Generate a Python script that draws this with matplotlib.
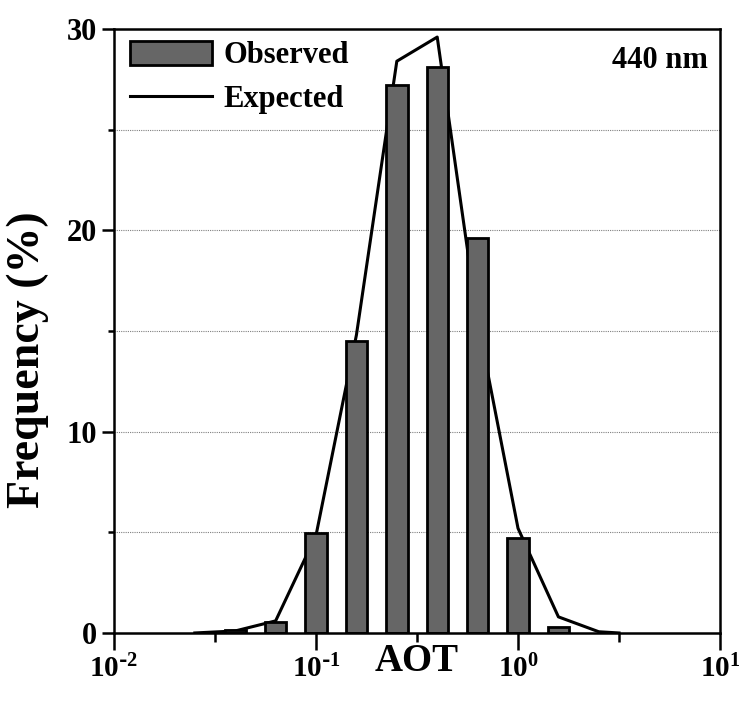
import numpy as np
import matplotlib
matplotlib.use("Agg")
import matplotlib.pyplot as plt
from matplotlib.ticker import FixedLocator, NullFormatter

plt.rcParams["font.family"] = ["Liberation Serif", "DejaVu Serif"]
plt.rcParams["font.weight"] = "bold"
plt.rcParams["mathtext.default"] = "regular"

# AOT histogram, 440 nm (bin centres in log10 units)
obs_log_centers = [-1.4, -1.2, -1.0, -0.8, -0.6, -0.4, -0.2, 0.0, 0.2]
obs_freq = [0.15, 0.55, 4.95, 14.5, 27.2, 28.1, 19.6, 4.7, 0.3]

exp_log_centers = [-1.6, -1.4, -1.2, -1.0, -0.8, -0.6, -0.4, -0.2, 0.0, 0.2, 0.4, 0.5]
exp_freq = [0.0, 0.1, 0.6, 4.85, 14.8, 28.4, 29.6, 15.5, 5.2, 0.8, 0.06, 0.0]

xticks = [0.01, 0.1, 1, 10]
xticklabels = ["10$^{\\text{-}2}$", "10$^{\\text{-}1}$", "10$^{0}$", "10$^{1}$"]

fig = plt.figure(figsize=(7.39, 7.04), dpi=100)
ax = fig.add_axes([0.1543, 0.1009, 0.8200, 0.8579])

# bars are half a bin wide in log space
half = 0.053
c = np.array(obs_log_centers)
left = 10 ** (c - half)
width = 10 ** (c + half) - left
bars = ax.bar(left, obs_freq, width=width, align="edge", color="#666666",
              edgecolor="black", linewidth=2.0, zorder=2, label="Observed")

line, = ax.plot(10 ** np.array(exp_log_centers), exp_freq, color="black",
                linewidth=2.2, zorder=1, label="Expected")

for y in [5, 10, 15, 20, 25]:
    ax.axhline(y, color="#808080", linestyle=(0, (1, 1)), linewidth=0.8, zorder=0)

ax.set_xscale("log")
ax.set_xlim(0.01, 10)
ax.set_ylim(0, 30)

ax.xaxis.set_major_locator(FixedLocator(xticks))
ax.set_xticklabels(xticklabels)
ax.xaxis.set_minor_locator(FixedLocator([10 ** -1.5, 10 ** -0.5, 10 ** 0.5]))
ax.xaxis.set_minor_formatter(NullFormatter())
ax.set_yticks([0, 10, 20, 30])
ax.yaxis.set_minor_locator(FixedLocator([5, 15, 25]))

ax.tick_params(axis="x", which="major", length=12, width=1.8, pad=4, labelsize=21)
ax.tick_params(axis="x", which="minor", length=6.5, width=1.8)
ax.tick_params(axis="y", which="major", length=8.5, width=1.8, pad=4, labelsize=22)
ax.tick_params(axis="y", which="minor", length=4.5, width=1.8)
for s in ax.spines.values():
    s.set_linewidth(1.8)

ax.set_xlabel("AOT", fontsize=28, fontweight="bold")
ax.xaxis.set_label_coords(0.5, -0.017)
ax.set_ylabel("Frequency (%)", fontsize=33, fontweight="bold")
ax.yaxis.set_label_coords(-0.108, 0.452)

ax.text(0.98, 0.972, "440 nm", transform=ax.transAxes, ha="right", va="top",
        fontsize=22, fontweight="bold")

ax.legend([bars, line], ["Observed", "Expected"], loc="upper left",
          bbox_to_anchor=(0.001, 1.006), frameon=False, handlelength=2.7,
          handleheight=0.85, handletextpad=0.35, borderaxespad=0.1,
          labelspacing=0.45, prop={"weight": "bold", "size": 22})

fig.savefig("out.png", dpi=100)
